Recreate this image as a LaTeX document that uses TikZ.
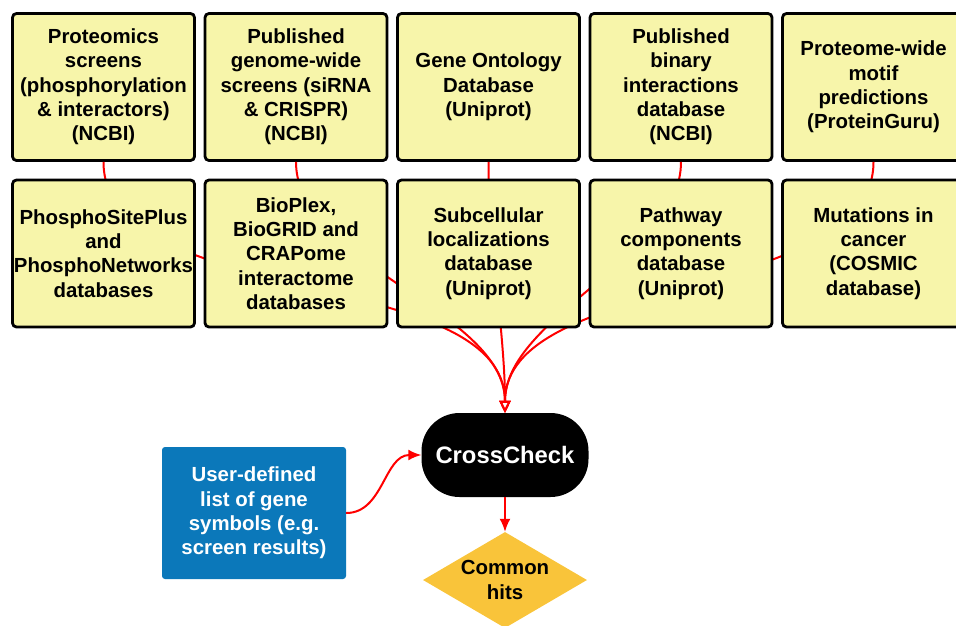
\documentclass[tikz,border=0pt]{standalone}
\usepackage{fontspec}
\setmainfont{Liberation Sans}
\usetikzlibrary{arrows.meta}
\usetikzlibrary{shapes}
\definecolor{dbyellow}{HTML}{F7F5AA}
\definecolor{userblue}{HTML}{0B78BA}
\definecolor{hitsorange}{HTML}{F9C43A}

\begin{document}
\begin{tikzpicture}[x=1pt, y=-1pt,
  every node/.style={font=\bfseries\fontsize{20.4}{24.3}\selectfont, align=center, inner sep=0pt},
  db/.style={draw, line width=2.8pt, rounded corners=4pt, fill=dbyellow, minimum width=182pt, minimum height=147pt},
  link/.style={draw=red, line width=2pt}]
\path[use as bounding box, clip] (0,0) rectangle (956,625);

% source databases, top row
\node[db] (proteomics) at (103.5,87) {Proteomics\\screens\\(phosphorylation\\\& interactors)\\(NCBI)};
\node[db] (screens) at (296,87) {Published\\genome-wide\\screens (siRNA\\\& CRISPR)\\(NCBI)};
\node[db] (ontology) at (488.5,87) {Gene Ontology\\Database\\(Uniprot)};
\node[db] (binary) at (681,87) {Published\\binary\\interactions\\database\\(NCBI)};
\node[db] (motif) at (873.5,87) {Proteome-wide\\motif\\predictions\\(ProteinGuru)};

\node[fill=black, text=white, rounded corners=38pt, minimum width=167pt, minimum height=84pt, font=\bfseries\fontsize{23.8}{28}\selectfont] (cc) at (505,455) {CrossCheck};

\draw[link, -{Triangle[fill=white, length=12pt, width=11pt]}] (proteomics.south) to[out=-90, in=90, looseness=0.8] (cc.north);
\draw[link, -{Triangle[fill=white, length=12pt, width=11pt]}] (screens.south) to[out=-90, in=90, looseness=0.8] (cc.north);
\draw[link, -{Triangle[fill=white, length=12pt, width=11pt]}] (ontology.south) to[out=-90, in=90, looseness=0.8] (cc.north);
\draw[link, -{Triangle[fill=white, length=12pt, width=11pt]}] (binary.south) to[out=-90, in=90, looseness=0.8] (cc.north);
\draw[link, -{Triangle[fill=white, length=12pt, width=11pt]}] (motif.south) to[out=-90, in=90, looseness=0.8] (cc.north);

% source databases, bottom row
\node[db] (phospho) at (103.5,253.5) {PhosphoSitePlus\\and\\PhosphoNetworks\\databases};
\node[db] (bioplex) at (296,253.5) {BioPlex,\\BioGRID and\\CRAPome\\interactome\\databases};
\node[db] (subcell) at (488.5,253.5) {Subcellular\\localizations\\database\\(Uniprot)};
\node[db] (pathway) at (681,253.5) {Pathway\\components\\database\\(Uniprot)};
\node[db] (cosmic) at (873.5,253.5) {Mutations in\\cancer\\(COSMIC\\database)};

\node[fill=userblue, text=white, rounded corners=3pt, minimum width=184pt, minimum height=132pt] (user) at (254,513) {User-defined\\list of gene\\symbols (e.g.\\screen results)};
\node[diamond, aspect=1.7, fill=hitsorange, minimum width=164pt, minimum height=96pt] (hits) at (505,580) {Common\\hits};

\draw[link, -{Latex[length=13pt, width=11pt]}] (user.east) to[out=0, in=180] (cc.west);
\draw[link, -{Latex[length=13pt, width=11pt]}] (cc.south) -- (hits.north);
\end{tikzpicture}
\end{document}
